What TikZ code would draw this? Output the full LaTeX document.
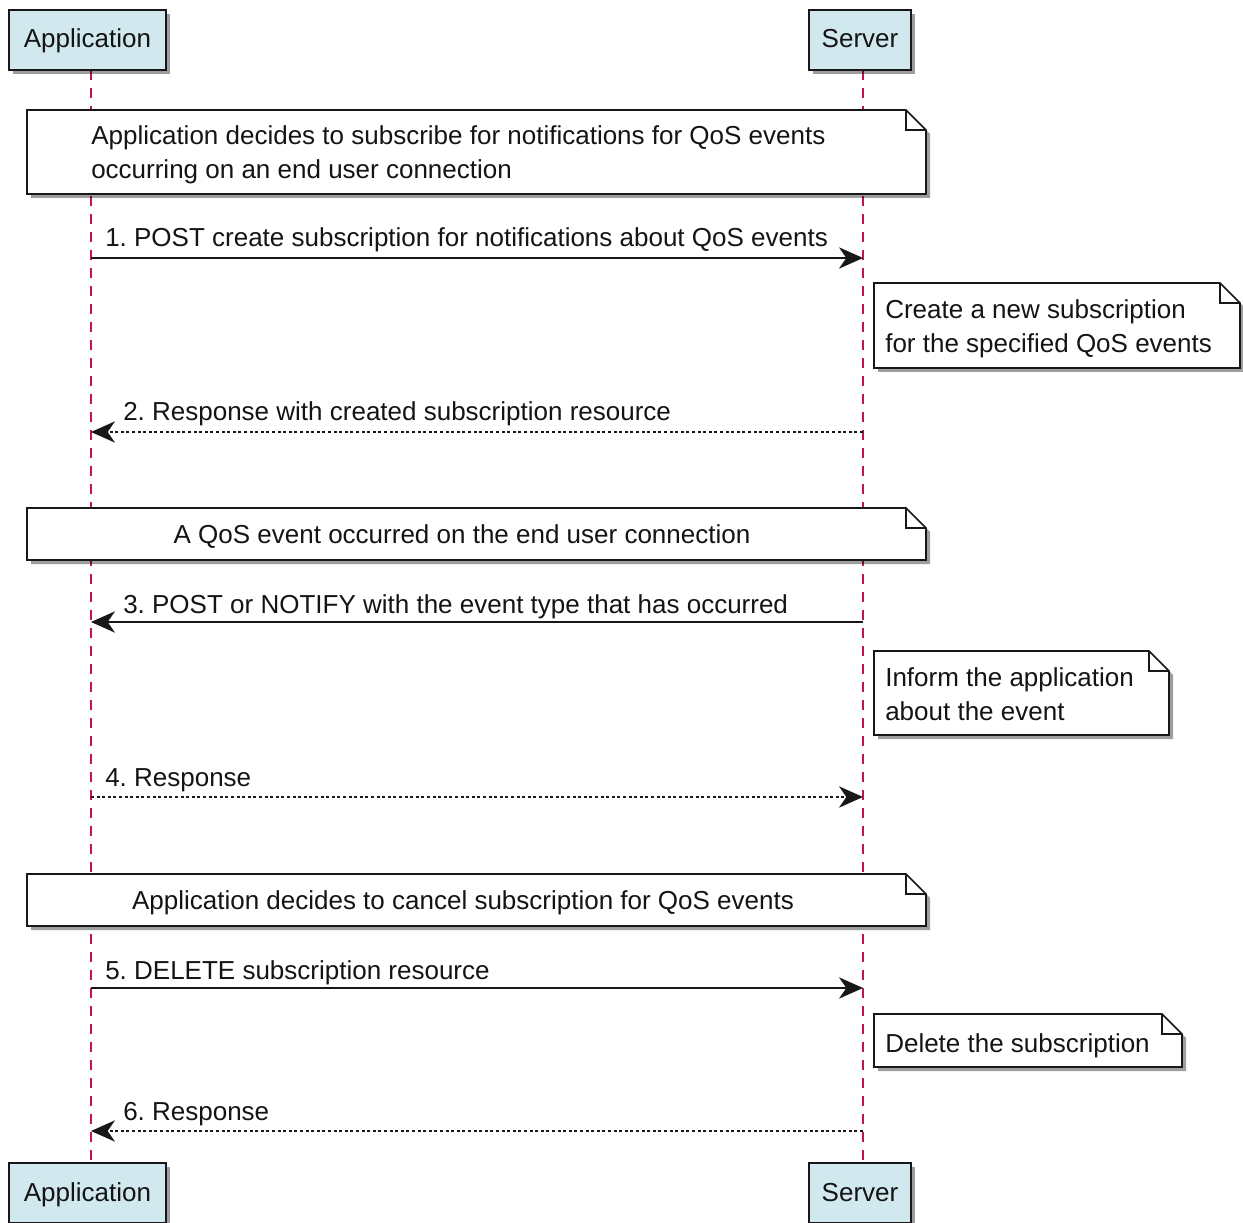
\documentclass[tikz,border=0pt]{standalone}
\usepackage{fontspec}
\setmainfont{Liberation Sans}
\usetikzlibrary{arrows.meta,shadows}
\newlength\pu \setlength\pu{0.75pt}
\definecolor{partfill}{RGB}{209,232,239}
\definecolor{lifecol}{RGB}{190,20,80}
\definecolor{linecol}{RGB}{24,24,24}
\definecolor{txtcol}{RGB}{20,20,20}
\frenchspacing
\begin{document}
\begin{tikzpicture}[x=0.75pt,y=-0.75pt,
  txt/.style={font=\fontsize{19.5pt}{25.5pt}\selectfont, inner sep=0pt, text=txtcol},
  pshadow/.style={drop shadow={shadow xshift=3pt, shadow yshift=-3pt, opacity=0.38, fill=black}},
  participant/.style={txt, draw=linecol, line width=1.5pt, fill=partfill, rectangle,
     minimum height=60\pu, text height=14pt, text depth=2pt, pshadow},
  lifeline/.style={draw=lifecol, line width=1.2pt, dash pattern=on 7.5pt off 6pt},
  notebody/.style={draw=linecol, line width=1.2pt, fill=white, pshadow},
  notefold/.style={draw=linecol, line width=1.2pt},
  msg/.style={draw=linecol, line width=1.2pt, -{Stealth[length=18pt,width=16pt,inset=5.5pt]}},
  reply/.style={msg, dash pattern=on 2.2pt off 2pt},
  lbl/.style={txt, anchor=base west},
  ntext/.style={txt, anchor=base west},
  nctext/.style={txt, anchor=base},
]
\useasboundingbox (0,0) rectangle (1243,1223);

% lifelines
\coordinate (appT) at (91,70);
\coordinate (appB) at (91,1163);
\coordinate (srvT) at (863,70);
\coordinate (srvB) at (863,1163);
\draw[lifeline] (appT) -- (appB);
\draw[lifeline] (srvT) -- (srvB);

% participants
\node[participant, minimum width=157\pu] (appTop) at (87.5,40) {Application};
\node[participant, minimum width=102\pu] (srvTop) at (860,40) {Server};
\node[participant, minimum width=157\pu] (appBot) at (87.5,1193) {Application};
\node[participant, minimum width=102\pu] (srvBot) at (860,1193) {Server};

% note 1
\draw[notebody] (27,110) -- (906,110) -- (926,130) -- (926,194) -- (27,194) -- cycle;
\draw[notefold] (906,110) -- (906,130) -- (926,130);
\node[ntext] (n1a) at (91,145) {Application decides to subscribe for notifications for QoS events};
\node[ntext] (n1b) at (91,179) {occurring on an end user connection};

% message 1
\coordinate (m1a) at (91,258);
\coordinate (m1s) at (863,258);
\draw[msg] (m1a) -- (m1s);
\node[lbl] (l1) at (105,247) {1. POST create subscription for notifications about QoS events};

% note 2
\draw[notebody] (874,283) -- (1220,283) -- (1240,303) -- (1240,368) -- (874,368) -- cycle;
\draw[notefold] (1220,283) -- (1220,303) -- (1240,303);
\node[ntext] (n2a) at (885,319) {Create a new subscription};
\node[ntext] (n2b) at (885,353) {for the specified QoS events};

% message 2
\coordinate (m2s) at (863,432);
\coordinate (m2a) at (91,432);
\draw[reply] (m2s) -- (m2a);
\node[lbl] (l2) at (123,421) {2. Response with created subscription resource};

% note 3
\draw[notebody] (27,508) -- (906,508) -- (926,528) -- (926,560) -- (27,560) -- cycle;
\draw[notefold] (906,508) -- (906,528) -- (926,528);
\node[nctext] (n3) at (462,543) {A QoS event occurred on the end user connection};

% message 3
\coordinate (m3s) at (863,622);
\coordinate (m3a) at (91,622);
\draw[msg] (m3s) -- (m3a);
\node[lbl] (l3) at (123,613) {3. POST or NOTIFY with the event type that has occurred};

% note 4
\draw[notebody] (874,651) -- (1149,651) -- (1169,671) -- (1169,735) -- (874,735) -- cycle;
\draw[notefold] (1149,651) -- (1149,671) -- (1169,671);
\node[ntext] (n4a) at (885,686) {Inform the application};
\node[ntext] (n4b) at (885,720) {about the event};

% message 4
\coordinate (m4a) at (91,797);
\coordinate (m4s) at (863,797);
\draw[reply] (m4a) -- (m4s);
\node[lbl] (l4) at (105,786) {4. Response};

% note 5
\draw[notebody] (27,874) -- (906,874) -- (926,894) -- (926,926) -- (27,926) -- cycle;
\draw[notefold] (906,874) -- (906,894) -- (926,894);
\node[nctext] (n5) at (463,909) {Application decides to cancel subscription for QoS events};

% message 5
\coordinate (m5a) at (91,988);
\coordinate (m5s) at (863,988);
\draw[msg] (m5a) -- (m5s);
\node[lbl] (l5) at (105,979) {5. DELETE subscription resource};

% note 6
\draw[notebody] (874,1014) -- (1162,1014) -- (1182,1034) -- (1182,1067) -- (874,1067) -- cycle;
\draw[notefold] (1162,1014) -- (1162,1034) -- (1182,1034);
\node[ntext] (n6) at (885,1052) {Delete the subscription};

% message 6
\coordinate (m6s) at (863,1131);
\coordinate (m6a) at (91,1131);
\draw[reply] (m6s) -- (m6a);
\node[lbl] (l6) at (123,1120) {6. Response};
\end{tikzpicture}
\end{document}
